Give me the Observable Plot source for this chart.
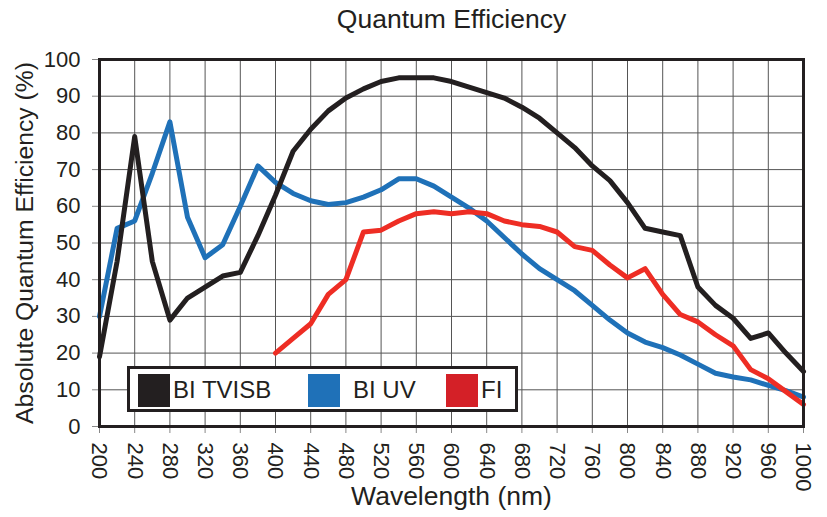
<!DOCTYPE html>
<html>
<head>
<meta charset="utf-8">
<script src="https://cdn.jsdelivr.net/npm/d3@7"></script>
<script src="https://cdn.jsdelivr.net/npm/@observablehq/plot@0.6"></script>
<style>
  html, body { margin: 0; padding: 0; background: #fff; }
  #wrap { position: relative; width: 827px; height: 517px; font-family: "Liberation Sans", Arial, Helvetica, sans-serif; }
  #legend { position: absolute; left: 127px; top: 366px; width: 385px; height: 40px; border: 3px solid #231f20; background: #fff; }
  .sw { position: absolute; top: 5px; width: 32px; height: 33px; }
  .lt { position: absolute; top: 4px; font-size: 24px; line-height: 34px; color: #231f20; white-space: nowrap; }
</style>
</head>
<body>
<div id="wrap"></div>
<script>
// ---- data ----
const wavelengths = [200,220,240,260,280,300,320,340,360,380,400,420,440,460,480,500,520,540,560,580,600,620,640,660,680,700,720,740,760,780,800,820,840,860,880,900,920,940,960,980,1000];
const biTvisb = [19,45,79,45,29,35,38,41,42,52,63,75,81,86,89.5,92,94,95,95,95,94,92.5,91,89.5,87,84,80,76,71,67,61,54,53,52,38,33,29.5,24,25.5,20,15];
const biUv = [30,54,56,69,83,57,46,49.5,60,71,66.5,63.5,61.5,60.5,61,62.5,64.5,67.5,67.5,65.5,62.5,59.5,56,51.5,47,43,40,37,33,29,25.5,23,21.5,19.5,17,14.5,13.5,12.7,11.2,9.8,8];
const fiWavelengths = [400,420,440,460,480,500,520,540,560,580,600,620,640,660,680,700,720,740,760,780,800,820,840,860,880,900,920,940,960,980,1000];
const fi = [20,24,28,36,40,53,53.5,56,58,58.5,58,58.5,58,56,55,54.5,53,49,48,44,40.5,43,36,30.5,28.5,25,22,15.5,13,9.5,6];
const seriesNames = ["BI TVISB", "BI UV", "FI"];
const lineColors = ["#231f20", "#1f71b8", "#ee2d24"];
const swatchColors = ["#231f20", "#1f71b8", "#d42027"];
const xTicks = [200,240,280,320,360,400,440,480,520,560,600,640,680,720,760,800,840,880,920,960,1000];
const yTicks = [0,10,20,30,40,50,60,70,80,90,100];
const title = "Quantum Efficiency";
const xLabel = "Wavelength (nm)";
const yLabel = "Absolute Quantum Efficiency (%)";

const tvisbData = wavelengths.map((w, i) => ({w, v: biTvisb[i]}));
const uvData = wavelengths.map((w, i) => ({w, v: biUv[i]}));
const fiData = fiWavelengths.map((w, i) => ({w, v: fi[i]}));

const chart = Plot.plot({
  width: 827,
  height: 517,
  marginLeft: 99,
  marginRight: 24,
  marginTop: 59,
  marginBottom: 91,
  style: { fontFamily: '"Liberation Sans", Arial, Helvetica, sans-serif', color: "#231f20", background: "#fff" },
  x: { domain: [200, 1000] },
  y: { domain: [0, 100] },
  marks: [
    Plot.gridX({ ticks: xTicks.filter(t => t > 200 && t < 1000), stroke: "#555", strokeOpacity: 1, strokeWidth: 1 }),
    Plot.gridY({ ticks: yTicks.filter(t => t > 0 && t < 100), stroke: "#555", strokeOpacity: 1, strokeWidth: 1 }),
    Plot.axisY({ ticks: yTicks, tickSize: 7, tickPadding: 12, fontSize: 22, stroke: "#888", fill: "#231f20", label: null }),
    Plot.axisX({ ticks: xTicks, tickFormat: d => String(d), tickSize: 7, tickPadding: 9, tickRotate: 90, fontSize: 22, stroke: "#888", fill: "#231f20", label: null }),
    Plot.line(uvData, { x: "w", y: "v", stroke: lineColors[1], strokeWidth: 5, strokeLinejoin: "round" }),
    Plot.line(tvisbData, { x: "w", y: "v", stroke: lineColors[0], strokeWidth: 5, strokeLinejoin: "round" }),
    Plot.line(fiData, { x: "w", y: "v", stroke: lineColors[2], strokeWidth: 5, strokeLinejoin: "round" }),
    Plot.frame({ stroke: "#231f20", strokeWidth: 3 }),
    Plot.text([title], { frameAnchor: "top", dy: -40, lineAnchor: "middle", fontSize: 26.5, fill: "#231f20" }),
    Plot.text([xLabel], { frameAnchor: "bottom", dy: 70, lineAnchor: "middle", fontSize: 26.5, fill: "#231f20" }),
    Plot.text([yLabel], { frameAnchor: "left", dx: -74, rotate: -90, textAnchor: "middle", lineAnchor: "middle", fontSize: 24.7, fill: "#231f20" })
  ]
});
const wrap = document.getElementById("wrap");
wrap.appendChild(chart);

// legend (HTML overlay built from series arrays)
const legend = document.createElement("div");
legend.id = "legend";
const swLeft = [8, 178, 316];
seriesNames.forEach((name, i) => {
  const sw = document.createElement("div");
  sw.className = "sw";
  sw.style.left = swLeft[i] + "px";
  sw.style.background = swatchColors[i];
  legend.appendChild(sw);
  const t = document.createElement("div");
  t.className = "lt";
  t.style.left = (swLeft[i] + 35 + (i === 1 ? 10 : 0)) + "px";
  t.textContent = name;
  legend.appendChild(t);
});
wrap.appendChild(legend);
</script>
</body>
</html>
